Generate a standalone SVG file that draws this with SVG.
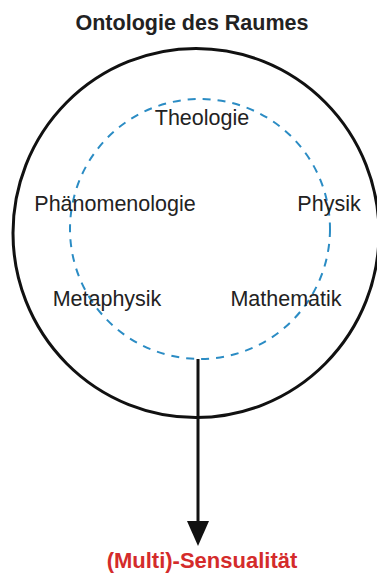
<svg xmlns="http://www.w3.org/2000/svg" width="377" height="573" viewBox="0 0 377 573">
<style>
.lbl{font-family:"Liberation Sans",Arial,sans-serif;font-size:21.5px;fill:#222;text-anchor:middle}
.title{font-family:"Liberation Sans",Arial,sans-serif;font-size:21.5px;font-weight:bold;fill:#222;text-anchor:middle}
.red{font-family:"Liberation Sans",Arial,sans-serif;font-size:22px;font-weight:bold;fill:#d42b2b;text-anchor:middle}
</style>
<defs>
<marker id="ah" markerWidth="8" markerHeight="8" refX="4" refY="8" orient="auto" markerUnits="userSpaceOnUse" viewBox="0 0 8 8"/>
</defs>
<rect width="377" height="573" fill="#fff"/>
<g id="title"><text class="title" x="192" y="30">Ontologie des Raumes</text></g>
<g id="outer"><ellipse cx="196" cy="233" rx="183" ry="184.5" fill="none" stroke="#111" stroke-width="3"/></g>
<g id="inner"><circle cx="200" cy="229" r="130" fill="none" stroke="#2b8cc4" stroke-width="2" stroke-dasharray="8,7"/></g>
<g id="theologie"><text class="lbl" x="202" y="125">Theologie</text></g>
<g id="phaenomenologie"><text class="lbl" x="115" y="211">Phänomenologie</text></g>
<g id="physik"><text class="lbl" x="329" y="211">Physik</text></g>
<g id="metaphysik"><text class="lbl" x="107" y="306">Metaphysik</text></g>
<g id="mathematik"><text class="lbl" x="286" y="306">Mathematik</text></g>
<g id="connectors">
<line x1="198" y1="359" x2="198" y2="524" stroke="#111" stroke-width="3"/>
<polygon points="187,521 209,521 198,546" fill="#111"/>
</g>
<g id="sensualitaet"><text class="red" x="202" y="568">(Multi)-Sensualität</text></g>
</svg>
